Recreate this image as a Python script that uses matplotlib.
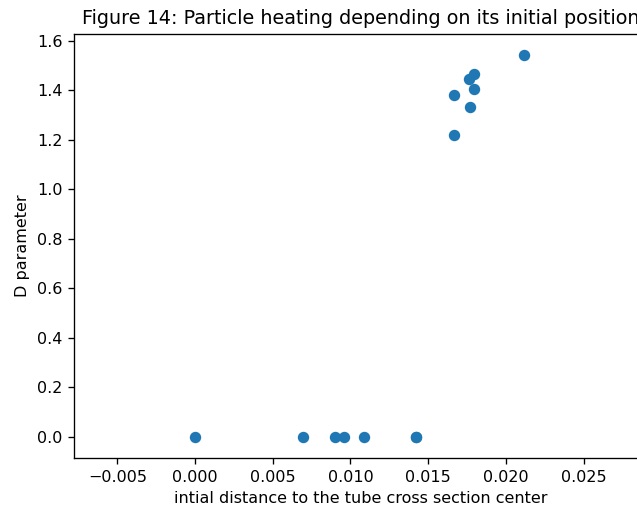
import matplotlib
matplotlib.use("Agg")
import matplotlib.pyplot as plt

# initial distance to tube center and resulting D parameter
distance = [0.0, 0.00693, 0.00901, 0.00961, 0.01090, 0.01420, 0.01420,
            0.02117, 0.01795, 0.01765, 0.01795, 0.01667, 0.01768, 0.01667]
d_param = [0.0, 0.0, 0.0, 0.0, 0.0, 0.0, 0.0,
           1.545, 1.467, 1.447, 1.405, 1.382, 1.331, 1.219]

plt.rcParams['font.size'] = 9.6

fig = plt.figure(figsize=(637 / 120, 511 / 120), dpi=120)
ax = fig.add_axes([74 / 637, 0.1037, 574 / 637, 0.8298])

ax.scatter(distance, d_param, s=34)

ax.set_title('Figure 14: Particle heating depending on its initial position', fontsize=11.5)
ax.set_xlabel('intial distance to the tube cross section center')
ax.set_ylabel('D parameter')
ax.set_xlim(-0.00779, 0.02915)
ax.set_ylim(-0.085, 1.628)

fig.savefig('out.png', dpi=120)
